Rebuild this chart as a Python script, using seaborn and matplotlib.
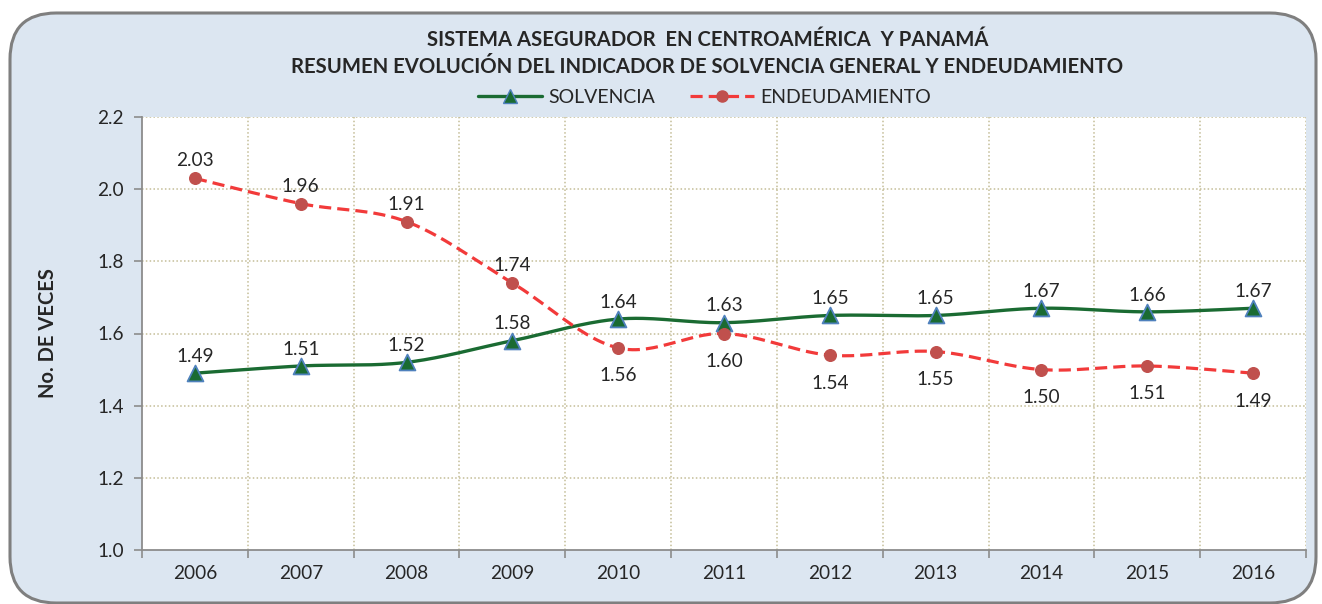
import numpy as np
import pandas as pd
import seaborn as sns
import matplotlib
matplotlib.use("Agg")
import matplotlib.pyplot as plt
from matplotlib.patches import FancyBboxPatch
from matplotlib.lines import Line2D

years = ["2006", "2007", "2008", "2009", "2010", "2011", "2012", "2013", "2014", "2015", "2016"]
solvencia = [1.49, 1.51, 1.52, 1.58, 1.64, 1.63, 1.65, 1.65, 1.67, 1.66, 1.67]
endeudamiento = [2.03, 1.96, 1.91, 1.74, 1.56, 1.60, 1.54, 1.55, 1.50, 1.51, 1.49]
yticks = [1.0, 1.2, 1.4, 1.6, 1.8, 2.0, 2.2]

sns.set_theme(style="white")
plt.rcParams['font.family'] = ['Lato', 'DejaVu Sans']

BG = "#DCE6F1"
GREEN = "#1A6B32"
RED = "#F23A3A"
TXT = "#262626"


def smooth(y, n=30):
    y = np.asarray(y, float)
    x = np.arange(len(y), dtype=float)
    P = np.column_stack([x, y])
    out = []
    for i in range(len(P) - 1):
        p0 = P[i - 1] if i > 0 else P[i]
        p1 = P[i]
        p2 = P[i + 1]
        p3 = P[i + 2] if i + 2 < len(P) else P[i + 1]
        c1 = p1 + (p2 - p0) / 6.0
        c2 = p2 - (p3 - p1) / 6.0
        t = np.linspace(0, 1, n, endpoint=(i == len(P) - 2))[:, None]
        seg = (1 - t) ** 3 * p1 + 3 * (1 - t) ** 2 * t * c1 + 3 * (1 - t) * t ** 2 * c2 + t ** 3 * p2
        out.append(seg)
    return np.vstack(out)


fig = plt.figure(figsize=(13.22, 6.04), dpi=100)
fig.patch.set_facecolor("white")
box = FancyBboxPatch((10 / 1322, 1 - 603 / 604), (1316 - 10) / 1322, (603 - 13) / 604,
                     boxstyle="round,pad=0,rounding_size=0.035", transform=fig.transFigure,
                     facecolor=BG, edgecolor="#7F7F7F", linewidth=2.2, mutation_aspect=1322 / 604,
                     zorder=-10)
fig.patches.append(box)

ax = fig.add_axes([142 / 1322, 1 - 550 / 604, (1306 - 142) / 1322, (550 - 117) / 604])
ax.set_zorder(5)
ax.set_facecolor("white")

DASH = (0, (3.8, 1.9))
s_curve = smooth(solvencia)
e_curve = smooth(endeudamiento)
df_s = pd.DataFrame({"x": s_curve[:, 0], "y": s_curve[:, 1]})
df_e = pd.DataFrame({"x": e_curve[:, 0], "y": e_curve[:, 1]})
sns.lineplot(data=df_s, x="x", y="y", ax=ax, color=GREEN, linewidth=2.4, sort=False, zorder=3)
sns.lineplot(data=df_e, x="x", y="y", ax=ax, color=RED, linewidth=2.3, sort=False, zorder=3,
             linestyle=DASH)

xi = np.arange(len(years))
sns.scatterplot(x=xi, y=solvencia, ax=ax, marker="^", s=130, color=GREEN, edgecolor="#4F81BD",
                linewidth=1.3, zorder=5)
sns.scatterplot(x=xi, y=endeudamiento, ax=ax, marker="o", s=70, color="#C0504D", edgecolor="#C0504D",
                linewidth=1, zorder=5)

FS = 13.7
for i, v in enumerate(solvencia):
    ax.annotate(f"{v:.2f}", (i, v), xytext=(0, 6), textcoords="offset points", ha="center",
                va="bottom", fontsize=FS, color=TXT, zorder=6)
for i, v in enumerate(endeudamiento):
    if i <= 3:
        ax.annotate(f"{v:.2f}", (i, v), xytext=(0, 6.5), textcoords="offset points", ha="center",
                    va="bottom", fontsize=FS, color=TXT, zorder=6)
    else:
        ax.annotate(f"{v:.2f}", (i, v), xytext=(0, -14), textcoords="offset points", ha="center",
                    va="top", fontsize=FS, color=TXT, zorder=6)

ax.set_xlim(-0.5, len(years) - 0.5)
ax.set_ylim(1.0, 2.2)
ax.set_yticks(yticks)
ax.set_yticklabels([f"{t:.1f}" for t in yticks], fontsize=FS, color=TXT)
ax.set_xticks(xi)
ax.set_xticklabels(years, fontsize=FS, color=TXT)
ax.set_xticks(np.arange(-0.5, len(years), 1.0), minor=True)
ax.tick_params(axis="x", which="major", length=0, pad=11)
ax.tick_params(axis="x", which="minor", length=6, width=1.2, color="#8C8C8C", direction="out", bottom=True)
ax.tick_params(axis="y", length=6, width=1.2, color="#8C8C8C", direction="out", left=True, pad=7)
ax.grid(False)
for yy in yticks[1:]:
    ax.axhline(yy, color="#C4BD97", linestyle=(0, (1, 1.5)), linewidth=1.1, zorder=1)
for xx in np.arange(0.5, len(years), 1.0):
    ax.axvline(xx, color="#C4BD97", linestyle=(0, (1, 1.5)), linewidth=1.1, zorder=1)
for side in ["top", "right"]:
    ax.spines[side].set_visible(False)
for side in ["left", "bottom"]:
    ax.spines[side].set_color("#8C8C8C")
    ax.spines[side].set_linewidth(1.3)
ax.set_xlabel("")
ax.set_ylabel("No. DE VECES", fontsize=14.5, fontweight="bold", color=TXT, labelpad=28)

fig.text(0.535, 1 - 40 / 604, "SISTEMA ASEGURADOR  EN CENTROAMÉRICA  Y PANAMÁ", ha="center", va="center",
         fontsize=14.6, fontweight="bold", color=TXT)
fig.text(0.535, 1 - 67 / 604, "RESUMEN EVOLUCIÓN DEL INDICADOR DE SOLVENCIA GENERAL Y ENDEUDAMIENTO",
         ha="center", va="center", fontsize=14.6, fontweight="bold", color=TXT)

h1 = Line2D([], [], color=GREEN, linewidth=2.4, marker="^", markersize=10, markerfacecolor=GREEN,
            markeredgecolor="#4F81BD")
h2 = Line2D([], [], color=RED, linewidth=2.3, linestyle=DASH, marker="o", markersize=8,
            markerfacecolor="#C0504D", markeredgecolor="#C0504D")
fig.legend([h1, h2], ["SOLVENCIA", "ENDEUDAMIENTO"], loc="center", bbox_to_anchor=(0.533, 1 - 97 / 604),
           ncol=2, frameon=False, fontsize=14, handlelength=3.3, columnspacing=1.8, handletextpad=0.3,
           labelcolor=TXT)

fig.savefig("out.png", dpi=100, facecolor=fig.get_facecolor())
